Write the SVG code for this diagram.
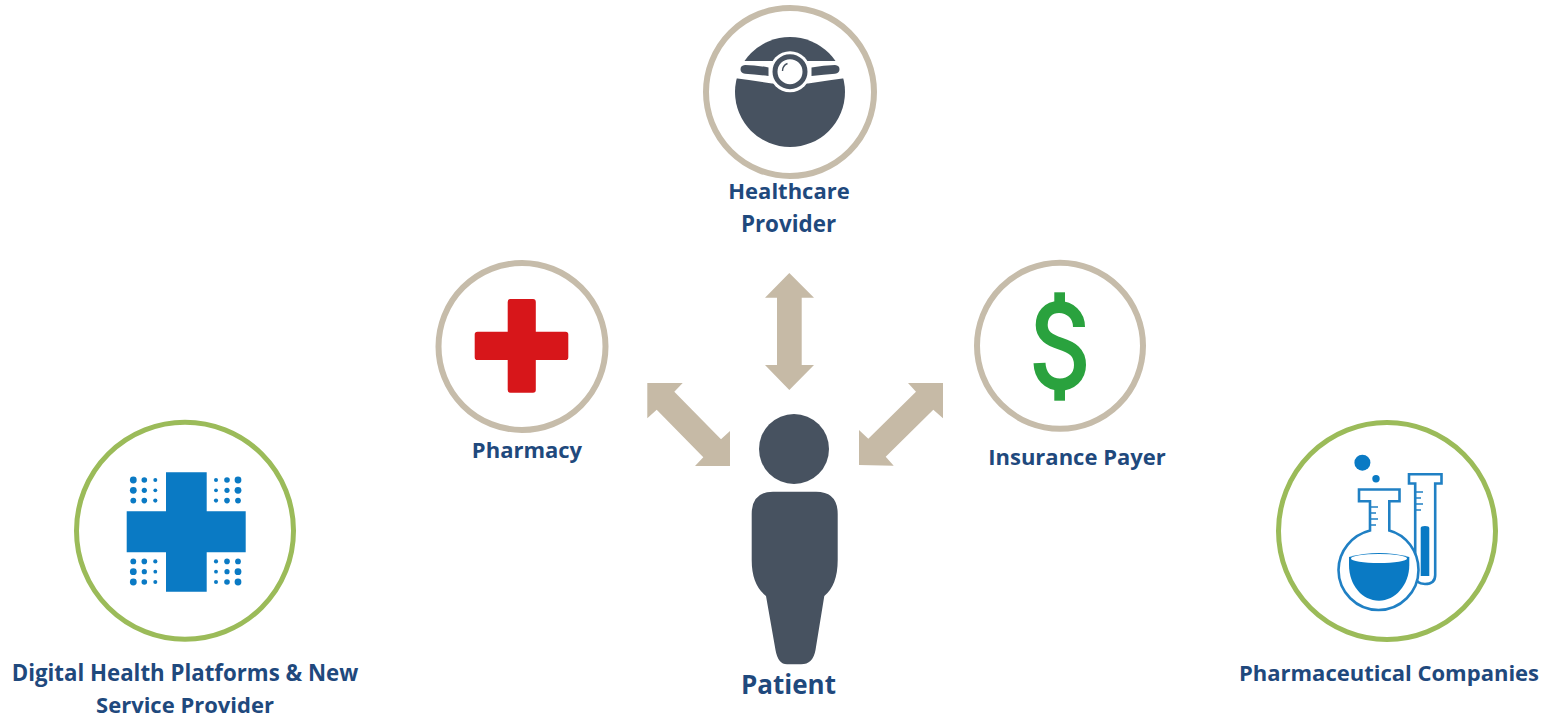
<svg xmlns="http://www.w3.org/2000/svg" width="1550" height="719" viewBox="0 0 1550 719">
<style>
.lbl{font-family:"Open Sans","Liberation Sans",sans-serif;font-weight:700;font-size:22px;fill:#1f497d;text-anchor:middle}
.ring-t{fill:#fff;stroke:#c6bcaa;stroke-width:6}
.ring-g{fill:#fff;stroke:#9bbb59;stroke-width:5}
.arrow{fill:#c6baa6}
.dark{fill:#475260}
.blue{fill:#0a7ac4}
.fl{fill:#fff;stroke:#2080c4;stroke-width:2.6}
.tick{stroke:#2080c4;stroke-width:1.6;fill:none}
.dollar{fill:#2aa23e}
</style>
<defs>
<g id="dots" class="blue">
<circle cx="0" cy="0" r="3.4"/><circle cx="11" cy="0" r="2.8"/><circle cx="22" cy="0" r="2"/>
<circle cx="0" cy="10.3" r="3.4"/><circle cx="11" cy="10.3" r="2.6"/><circle cx="22" cy="10.3" r="1.9"/>
<circle cx="0" cy="20.6" r="2.9"/><circle cx="11" cy="20.6" r="2.8"/><circle cx="22" cy="20.6" r="2.1"/>
</g>
</defs>
<g id="connectors">
<polygon class="arrow" points="789.3,273 814,297.7 801.7,297.7 801.7,365 814,365 789.3,390 765,365 777,365 777,297.7 765,297.7"/>
<polygon class="arrow" points="647.3,383 682.7,383 674.3,391.7 721,439.3 730,431 730,466 695,466 703.3,457.3 656.7,409.7 647.3,418.3"/>
<polygon class="arrow" points="943,383 908,383 916,391.7 868.3,438.7 859,430 859,465 893.7,465.7 885.7,456.7 933.3,409.7 943,418.3"/>
</g>
<g id="healthcare-provider">
<circle class="ring-t" cx="790" cy="92" r="84"/>
<circle class="dark" cx="790" cy="92" r="55"/>
<path d="M730,61 H850 V77.5 Q830,80 808,83.5 H772 Q750,80 730,77.5 Z" fill="#fff"/>
<path class="dark" d="M745,65 Q756,65 768.5,67.5 V76 Q756,74.5 745,73.8 Q740.5,73 740.5,69.3 Q740.5,65.5 745,65Z"/>
<path class="dark" d="M835,65 Q824,65 811.5,67.5 V76 Q824,74.5 835,73.8 Q839.5,73 839.5,69.3 Q839.5,65.5 835,65Z"/>
<circle cx="790" cy="71.7" r="20.5" fill="#fff"/>
<circle cx="790" cy="71.7" r="15" fill="#fff" stroke="#475260" stroke-width="5"/>
<path d="M782.5,71 Q782.5,65.5 787.5,63.5" fill="none" stroke="#475260" stroke-width="1.4"/>
<text class="lbl" x="789" y="199">Healthcare</text>
<text class="lbl" x="788.5" y="231.5" style="font-size:22.4px">Provider</text>
</g>
<g id="pharmacy">
<circle class="ring-t" cx="522" cy="346.5" r="83.5"/>
<path d="M510.5,299H533Q535.8,299 535.8,302V331.7H565.5Q568.3,331.7 568.3,334.5V357.2Q568.3,360 565.5,360H535.8V390Q535.8,392.8 533,392.8H510.5Q507.7,392.8 507.7,390V360H477.5Q474.7,360 474.7,357.2V334.5Q474.7,331.7 477.5,331.7H507.7V302Q507.7,299 510.5,299Z" fill="#d7161a"/>
<text class="lbl" x="527" y="458">Pharmacy</text>
</g>
<g id="insurance-payer">
<circle class="ring-t" cx="1060" cy="345.8" r="83"/>
<rect class="dollar" x="1054.3" y="292.3" width="10.7" height="14"/>
<rect class="dollar" x="1054.3" y="386.7" width="10.7" height="14"/>
<path d="M1079,327 C1079,315 1070,307 1059,307 C1048,307 1041.7,315 1041.7,325 C1041.7,336 1050,340 1060,343.5 C1072,347.5 1080,352 1080,365 C1080,377 1071,384.5 1060,384.5 C1048,384.5 1040,376 1039.5,363" fill="none" stroke="#2aa23e" stroke-width="12"/>
<text class="lbl" x="1077" y="465">Insurance Payer</text>
</g>
<g id="patient">
<circle class="dark" cx="794" cy="449" r="35"/>
<path class="dark" d="M773,491.7H816Q837.7,491.7 837.7,514V560Q837.7,585 824.3,596L815.5,650Q813,664.3 801,664.3H787Q778,664.3 775.5,650L766,596Q751.7,585 751.7,560V514Q751.7,491.7 773,491.7Z"/>
<text class="lbl" x="788.5" y="693.5" style="font-size:26px">Patient</text>
</g>
<g id="digital-health">
<circle class="ring-g" cx="185" cy="530.7" r="108.5"/>
<path class="blue" d="M166,472.3H206.7V511.3H245.7V552.3H206.7V591.7H166V552.3H126.7V511.3H166Z"/>
<use href="#dots" x="133.3" y="480"/>
<use href="#dots" transform="translate(238,480) scale(-1,1)"/>
<use href="#dots" transform="translate(133.3,582) scale(1,-1)"/>
<use href="#dots" transform="translate(238,582) scale(-1,-1)"/>
<text class="lbl" x="185" y="680.5" style="font-size:22.25px">Digital Health Platforms &amp; New</text>
<text class="lbl" x="185" y="712.5">Service Provider</text>
</g>
<g id="pharmaceutical-companies">
<circle class="ring-g" cx="1387" cy="531" r="108.5"/>
<circle class="blue" cx="1362.4" cy="462.7" r="8"/>
<circle class="blue" cx="1376" cy="478.7" r="3.7"/>
<path class="fl" d="M1409,474.2H1441.5V483.5H1435.2V575Q1435.2,584 1425,584Q1415.5,584 1415.2,575V483.5H1409Z"/>
<path class="blue" d="M1420.7,576V528Q1420.7,526 1425,526Q1429.3,526 1429.3,528V576Z"/>
<path class="tick" d="M1415,492H1423M1415,498H1421M1415,504H1423M1415,510H1421"/>
<path class="fl" d="M1359,489.5H1399.5V501.3H1389.3V530.5C1406,535 1418.5,551 1418.5,570C1418.5,592 1400.5,610 1378.5,610C1356.5,610 1338.5,592 1338.5,570C1338.5,551 1352,535 1370,530.5V501.3H1359Z"/>
<path class="tick" d="M1370,507H1378M1370,513H1376M1370,519H1378M1370,525H1376"/>
<path class="blue" d="M1349,557Q1379,549 1409.3,557V565C1409.3,585 1395,600.7 1379,600.7C1362,600.7 1349,585 1349,565Z"/>
<ellipse cx="1379" cy="558.5" rx="28" ry="4.5" fill="#fff"/>
<text class="lbl" x="1389" y="680.5">Pharmaceutical Companies</text>
</g>
</svg>
